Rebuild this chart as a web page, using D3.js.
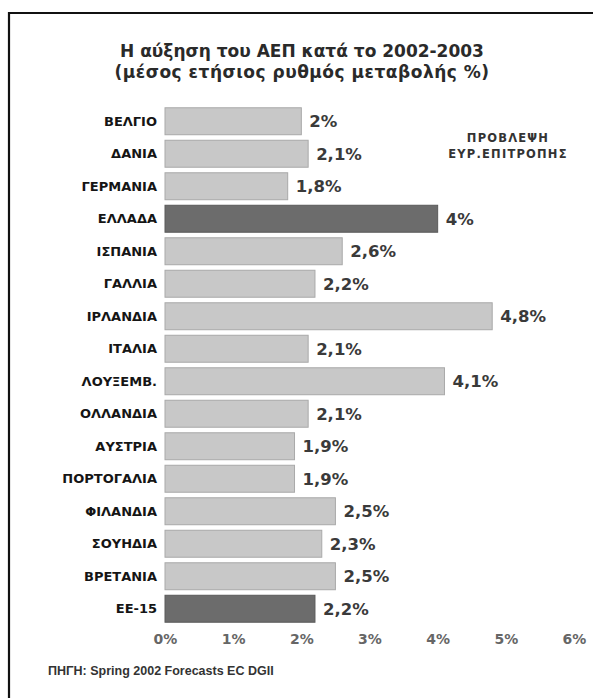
<!DOCTYPE html>
<html><head><meta charset="utf-8">
<script src="https://cdn.jsdelivr.net/npm/d3@7"></script>
<style>body{margin:0;background:#fff}svg{display:block}</style>
</head><body>
<svg id="c" width="593" height="698"></svg>
<script>
const categories = ["ΒΕΛΓΙΟ","ΔΑΝΙΑ","ΓΕΡΜΑΝΙΑ","ΕΛΛΑΔΑ","ΙΣΠΑΝΙΑ","ΓΑΛΛΙΑ","ΙΡΛΑΝΔΙΑ","ΙΤΑΛΙΑ","ΛΟΥΞΕΜΒ.","ΟΛΛΑΝΔΙΑ","ΑΥΣΤΡΙΑ","ΠΟΡΤΟΓΑΛΙΑ","ΦΙΛΑΝΔΙΑ","ΣΟΥΗΔΙΑ","ΒΡΕΤΑΝΙΑ","ΕΕ-15"];
const values = [2, 2.1, 1.8, 4, 2.6, 2.2, 4.8, 2.1, 4.1, 2.1, 1.9, 1.9, 2.5, 2.3, 2.5, 2.2];
const valueLabels = ["2%","2,1%","1,8%","4%","2,6%","2,2%","4,8%","2,1%","4,1%","2,1%","1,9%","1,9%","2,5%","2,3%","2,5%","2,2%"];
const highlighted = ["ΕΛΛΑΔΑ","ΕΕ-15"];
const tickValues = [0,1,2,3,4,5,6];
const titleLines = ["Η αύξηση του ΑΕΠ κατά το 2002-2003","(μέσος ετήσιος ρυθμός μεταβολής %)"];
const legendLines = ["ΠΡΟΒΛΕΨΗ","ΕΥΡ.ΕΠΙΤΡΟΠΗΣ"];
const sourceText = "ΠΗΓΗ: Spring 2002 Forecasts EC DGII";

const svg = d3.select("#c");
const font = "'DejaVu Sans', Verdana, sans-serif";

// frame
svg.append("path").attr("d","M9,700 V13 H600").attr("fill","none").attr("stroke","#111").attr("stroke-width",2.2);

const x = d3.scaleLinear().domain([0,6]).range([165,574]);
const y = d3.scaleBand().domain(categories).range([105,625]).paddingInner(0.17).paddingOuter(0.085);

svg.selectAll("text.title").data(titleLines).join("text").attr("class","title")
  .attr("x",302).attr("y",(d,i)=>57+i*21).attr("text-anchor","middle")
  .attr("font-family",font).attr("font-weight","bold").attr("font-size",17)
  .attr("letter-spacing",(d,i)=>i===1?0.5:0).attr("fill","#2a2a2a").text(d=>d);

svg.selectAll("rect.bar").data(categories).join("rect").attr("class","bar")
  .attr("x",x(0)).attr("y",d=>y(d)).attr("width",(d,i)=>x(values[i])-x(0)).attr("height",y.bandwidth())
  .attr("fill",d=>highlighted.includes(d)?"#6c6c6c":"#c8c8c8")
  .attr("stroke",d=>highlighted.includes(d)?"#5a5a5a":"#a9a9a9").attr("stroke-width",1);

svg.selectAll("text.cat").data(categories).join("text").attr("class","cat")
  .attr("x",157).attr("y",d=>y(d)+y.bandwidth()/2).attr("dy","0.36em").attr("text-anchor","end")
  .attr("font-family",font).attr("font-weight","bold").attr("font-size",13).attr("fill","#151515").text(d=>d);

svg.selectAll("text.val").data(categories).join("text").attr("class","val")
  .attr("x",(d,i)=>x(values[i])+8).attr("y",d=>y(d)+y.bandwidth()/2).attr("dy","0.36em")
  .attr("font-family",font).attr("font-weight","bold").attr("font-size",16.5).attr("fill","#3a3a3a").text((d,i)=>valueLabels[i]);

const axis = d3.axisBottom(x).tickValues(tickValues).tickFormat(d=>d+"%").tickSize(0).tickPadding(0);
const ax = svg.append("g").attr("transform","translate(0,644)").call(axis);
ax.select(".domain").remove();
ax.selectAll("text").attr("font-family",font).attr("font-weight","bold").attr("font-size",14).attr("fill","#666").attr("dy","0");

svg.selectAll("text.leg").data(legendLines).join("text").attr("class","leg")
  .attr("x",508).attr("y",(d,i)=>142+i*16).attr("text-anchor","middle")
  .attr("font-family",font).attr("font-weight","bold").attr("font-size",11.5).attr("letter-spacing",1.2).attr("fill","#333").text(d=>d);

svg.append("text").attr("x",48).attr("y",675)
  .attr("font-family","'Liberation Sans Narrow', 'Liberation Sans', Arial, sans-serif").attr("font-weight","bold")
  .attr("font-size",12.5).attr("fill","#333").text(sourceText);
</script>
</body></html>
